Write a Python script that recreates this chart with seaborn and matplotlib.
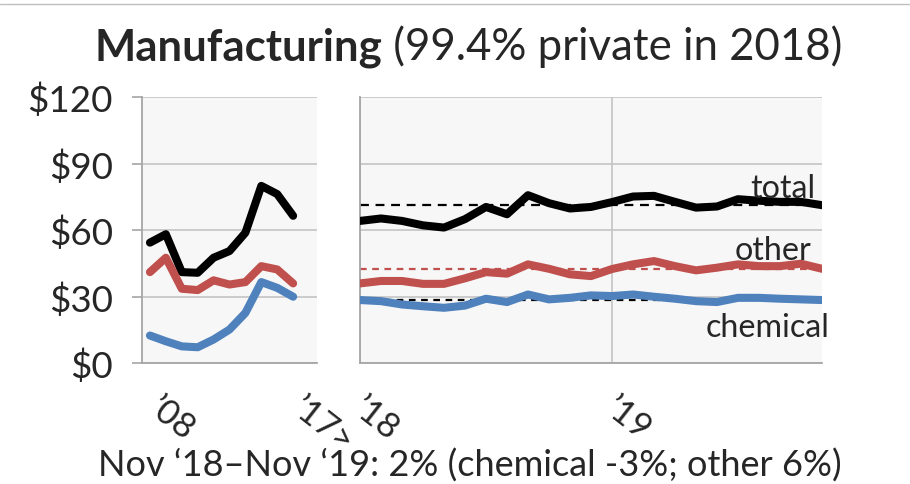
import numpy as np
import pandas as pd
import matplotlib.pyplot as plt
import matplotlib.transforms as mtransforms
import seaborn as sns

# annual values 2008-2017 (left panel)
years = ["’08", "’09", "’10", "’11", "’12", "’13", "’14", "’15", "’16", "’17>"]
annual_total = [54.3, 58.1, 41.0, 40.7, 47.5, 50.5, 58.8, 79.9, 76.2, 66.4]
annual_other = [41.0, 47.5, 33.5, 32.9, 37.3, 35.4, 36.5, 43.7, 42.2, 35.9]
annual_chem = [12.4, 9.8, 7.5, 7.1, 10.6, 15.1, 22.6, 36.5, 33.9, 29.9]

# monthly values Jan 2018 - Nov 2019 (right panel)
months = pd.date_range("2018-01", "2019-11", freq="MS")
month_labels = ["’18", "’19"]
monthly_total = [64.1, 65.2, 64.1, 62.1, 61.1, 64.9, 70.4, 67.1, 75.7, 72.1, 69.7, 70.4,
                 72.6, 75.1, 75.4, 72.7, 70.1, 70.6, 73.9, 73.2, 72.7, 72.7, 71.2]
monthly_other = [35.9, 37.0, 37.0, 35.7, 35.7, 38.2, 41.0, 40.3, 44.5, 42.5, 40.0, 39.2,
                 42.4, 44.5, 46.0, 43.7, 41.8, 43.0, 44.5, 43.7, 43.7, 44.8, 42.5]
monthly_chem = [28.4, 27.9, 26.4, 25.6, 24.9, 25.9, 29.0, 27.5, 30.9, 28.7, 29.4, 30.5,
                30.2, 30.9, 29.9, 29.0, 27.9, 27.5, 29.4, 29.4, 29.0, 28.7, 28.4]

# reference levels (dashed)
ref_total = 71.3
ref_other = 42.6
ref_chem = 28.4

yticks = [0, 30, 60, 90, 120]
ytick_labels = ["$0", "$30", "$60", "$90", "$120"]

series = ["total", "other", "chemical"]
colors = {"total": "#000000", "other": "#C0504D", "chemical": "#4F81BD"}

annual = pd.DataFrame({"i": np.arange(len(years)), "total": annual_total,
                       "other": annual_other, "chemical": annual_chem})
annual = annual.melt(id_vars="i", var_name="series", value_name="value")
monthly = pd.DataFrame({"i": np.arange(len(months)), "total": monthly_total,
                        "other": monthly_other, "chemical": monthly_chem})
monthly = monthly.melt(id_vars="i", var_name="series", value_name="value")

sns.set_style("white")
plt.rcParams["font.family"] = ["Lato", "DejaVu Sans"]

W, H = 910, 485
fig = plt.figure(figsize=(W / 100, H / 100), dpi=100)
renderer = fig.canvas.get_renderer()
gray = "#A6A6A6"
bg = "#F7F7F7"


def size_for(text, width_px, weight="normal"):
    # font size that makes `text` about width_px wide
    t = fig.text(0, 0, text, fontsize=20, fontweight=weight)
    w = t.get_window_extent(renderer).width
    t.remove()
    return 20 * width_px / w


tick_fs = 26.5
label_fs = size_for("chemical", 124)


def px_axes(x0, x1, y0, y1):
    return fig.add_axes([x0 / W, 1 - y1 / H, (x1 - x0) / W, (y1 - y0) / H])


ax1 = px_axes(142, 317, 98, 364)
ax2 = px_axes(360, 822, 98, 364)

for ax in (ax1, ax2):
    ax.set_facecolor(bg)
    ax.set_ylim(0, 120)
    ax.set_yticks(yticks)
    ax.yaxis.grid(True, color="#C4C4C4", lw=1.2)
    ax.set_axisbelow(True)
    for s in ["top", "right"]:
        ax.spines[s].set_visible(False)
    for s in ["left", "bottom"]:
        ax.spines[s].set_color(gray)
        ax.spines[s].set_linewidth(1.3)

sns.lineplot(data=annual, x="i", y="value", hue="series", hue_order=series,
             palette=colors, lw=5.8, legend=False, ax=ax1)
sns.lineplot(data=monthly, x="i", y="value", hue="series", hue_order=series,
             palette=colors, lw=5.8, legend=False, ax=ax2, zorder=3)

# left panel axes
ax1.set_xlim(-0.5, len(years) + 0.5)
ax1.set_xticks(np.arange(-0.5, len(years) + 1), minor=True)
ax1.set_xticks([0, 9])
ax1.set_xticklabels([years[0], years[9]], rotation=-38, ha="left", va="top",
                    rotation_mode="anchor", fontsize=tick_fs * 0.95)
ax1.tick_params(axis="x", which="major", length=0, pad=20)
ax1.tick_params(axis="x", which="minor", direction="in", length=7, color=gray, width=1.2)
ax1.set_yticklabels(ytick_labels, fontsize=tick_fs)
ax1.tick_params(axis="y", direction="out", length=7, color=gray, width=1.2, pad=14, left=True)
ax1.set_xlabel("")
ax1.set_ylabel("")

# right panel axes
ax2.set_xlim(0, len(months) - 1)
ax2.set_xticks(np.arange(len(months)), minor=True)
ax2.set_xticks([0, 12])
ax2.set_xticklabels(month_labels, rotation=-38, ha="left", va="top",
                    rotation_mode="anchor", fontsize=tick_fs * 0.95)
ax2.xaxis.grid(True, which="major", color="#C4C4C4", lw=1.2)
ax2.tick_params(axis="x", which="major", direction="out", length=8.5, color=gray,
                width=1.2, pad=11.5)
ax2.tick_params(axis="x", which="minor", direction="in", length=5, color=gray, width=1.2)
ax2.tick_params(axis="y", length=0, labelleft=False)
ax2.set_xlabel("")
ax2.set_ylabel("")

for ax, dx in ((ax1, 12), (ax2, 6)):
    shift = mtransforms.ScaledTranslation(dx / 100, 0, fig.dpi_scale_trans)
    for lab in ax.get_xticklabels():
        lab.set_transform(lab.get_transform() + shift)

ax2.axhline(ref_total, color="black", ls=(0, (4, 3)), lw=1.6, zorder=2)
ax2.axhline(ref_other, color=colors["other"], ls=(0, (3, 2.5)), lw=1.6, zorder=2)
ax2.axhline(ref_chem, color="black", ls=(0, (3, 2.5)), lw=1.6, zorder=2)

ax2.text(21.67, 74.9, "total", ha="right", va="baseline", fontsize=label_fs, zorder=4)
ax2.text(21.48, 46.9, "other", ha="right", va="baseline", fontsize=label_fs, zorder=4)
ax2.text(22.38, 12.2, "chemical", ha="right", va="baseline", fontsize=label_fs, zorder=4,
         clip_on=False)

# title: bold part + regular part, fitted to the reference width
bold_txt, reg_txt = "Manufacturing", " (99.4% private in 2018)"
t_b = fig.text(0, 0, bold_txt, fontsize=20, fontweight="bold")
t_r = fig.text(0, 0, reg_txt, fontsize=20)
wb = t_b.get_window_extent(renderer).width
wr = t_r.get_window_extent(renderer).width
t_b.remove()
t_r.remove()
title_fs = 20 * 748 / (wb + wr)
x0 = 95
fig.text(x0 / W, 1 - 60 / H, bold_txt, fontsize=title_fs, fontweight="bold",
         va="baseline", ha="left")
fig.text((x0 + wb * title_fs / 20) / W, 1 - 60 / H, reg_txt, fontsize=title_fs,
         va="baseline", ha="left")

foot = "Nov ‘18–Nov ‘19: 2% (chemical -3%; other 6%)"
fig.text(470 / W, 1 - 477 / H, foot, fontsize=size_for(foot, 745),
         va="baseline", ha="center")

fig.add_artist(plt.Line2D([0, 1], [1 - 5 / H, 1 - 5 / H], color="#BFBFBF", lw=1))

fig.savefig("out.png", dpi=100)
